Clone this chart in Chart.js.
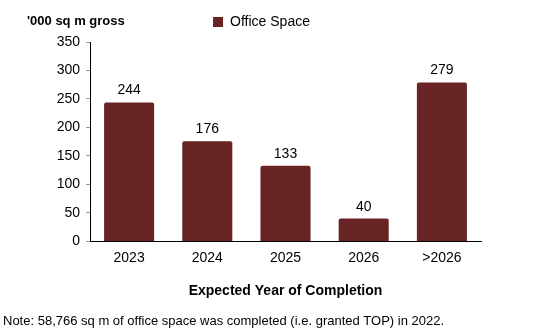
<!DOCTYPE html>
<html>
<head>
<meta charset="utf-8">
<script src="https://cdn.jsdelivr.net/npm/chart.js@4.4.0/dist/chart.umd.min.js"></script>
<style>
  html, body { margin: 0; padding: 0; background: #fff; }
  #wrap { width: 550px; height: 334px; }
</style>
</head>
<body>
<div id="wrap"><canvas id="myChart" width="550" height="334"></canvas></div>
<script>
// chart data
var years = ['2023', '2024', '2025', '2026', '>2026'];
var officeSpace = [244, 176, 133, 40, 279];
var yTicks = [0, 50, 100, 150, 200, 250, 300, 350];

var FONT = '"Liberation Sans", Arial, sans-serif';

// labels above the bars + the extra texts
var extraText = {
    id: 'extraText',
    afterLayout: function (chart) {
        // legend sits a bit right of centre and higher in the original
        if (chart.legend) {
            chart.legend.left += 21;
            chart.legend.right += 21;
            chart.legend.top -= 3;
            chart.legend.bottom -= 3;
        }
    },
    afterDatasetsDraw: function (chart) {
        var ctx = chart.ctx;
        var meta = chart.getDatasetMeta(0);
        ctx.save();
        ctx.fillStyle = '#000';
        ctx.font = '14px ' + FONT;
        ctx.textAlign = 'center';
        ctx.textBaseline = 'alphabetic';
        meta.data.forEach(function (bar, i) {
            ctx.fillText(officeSpace[i], bar.x, bar.y - 8);
        });
        ctx.textAlign = 'left';
        ctx.font = 'bold 13px ' + FONT;
        ctx.fillText("'000 sq m gross", 27, 25);
        ctx.font = '13px ' + FONT;
        ctx.fillText('Note: 58,766 sq m of office space was completed (i.e. granted TOP) in 2022.', 3, 325);
        ctx.restore();
    }
};

var ctx = document.getElementById('myChart').getContext('2d');
new Chart(ctx, {
    type: 'bar',
    data: {
        labels: years,
        datasets: [{
            label: 'Office Space',
            data: officeSpace,
            backgroundColor: '#682425',
            borderRadius: 2,
            borderSkipped: 'bottom',
            categoryPercentage: 1.0,
            barPercentage: 0.64
        }]
    },
    options: {
        responsive: false,
        animation: false,
        layout: { padding: { left: 0, right: 69, top: 5, bottom: 34 } },
        plugins: {
            tooltip: { enabled: false },
            legend: {
                display: true,
                labels: {
                    color: '#000',
                    font: { family: FONT, size: 14 },
                    boxWidth: 10,
                    boxHeight: 10,
                    padding: 13
                }
            }
        },
        scales: {
            x: {
                grid: { display: false },
                border: { display: true, color: '#000', width: 1 },
                ticks: { color: '#000', font: { family: FONT, size: 14 }, padding: 0 },
                title: {
                    display: true,
                    text: 'Expected Year of Completion',
                    color: '#000',
                    font: { family: FONT, size: 14, weight: 'bold' },
                    padding: { top: 17, bottom: 0 }
                }
            },
            y: {
                min: 0,
                max: 350,
                afterBuildTicks: function (scale) {
                    scale.ticks = yTicks.map(function (v) { return { value: v }; });
                },
                afterFit: function (scale) { scale.width = 90; },
                grid: { drawOnChartArea: false, drawTicks: true, tickLength: 4, color: '#999' },
                border: { display: true, color: '#000', width: 1 },
                ticks: { color: '#000', font: { family: FONT, size: 14 }, padding: 6 }
            }
        }
    },
    plugins: [extraText]
});
</script>
</body>
</html>
